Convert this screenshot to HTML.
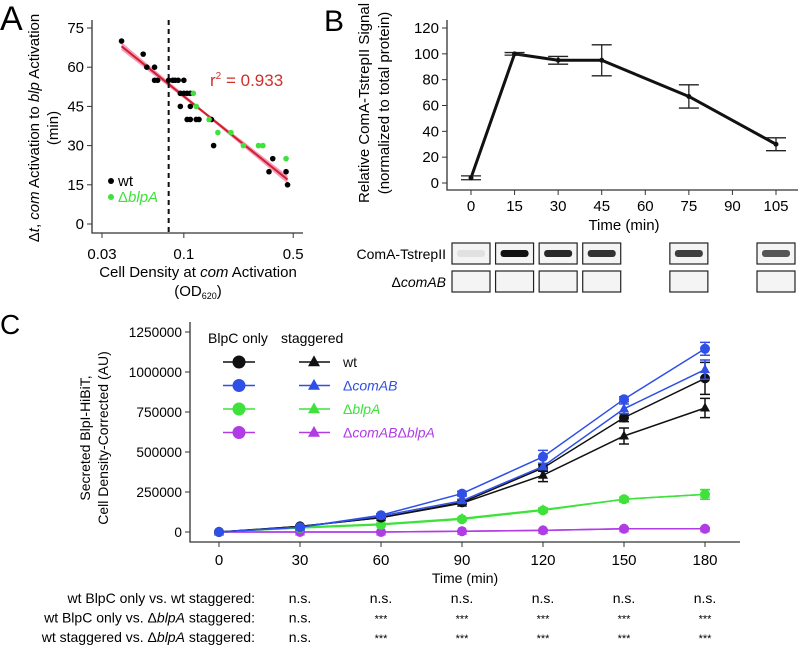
<!DOCTYPE html>
<html><head><meta charset="utf-8"><style>
html,body{margin:0;padding:0;background:#fff;}
svg{display:block;font-family:"Liberation Sans",sans-serif;}
</style></head><body>
<svg id="fig" width="800" height="652" viewBox="0 0 800 652" xmlns="http://www.w3.org/2000/svg">
<g id="pA"></g>
<g id="pB"></g>
<g id="pC"></g>
</svg>
<script>
// ---------- Panel A data ----------
const aWtX=[0.04,0.055,0.058,0.065,0.065,0.068,0.08,0.085,0.088,0.092,0.1,0.095,0.1,0.105,0.11,0.095,0.11,0.105,0.11,0.12,0.125,0.15,0.155,0.37,0.35,0.45,0.46];
const aWtY=[70,65,60,60,55,55,55,55,55,55,55,50,50,50,50,45,45,40,40,40,40,40,30,25,20,20,15];
const aMutX=[0.115,0.12,0.145,0.165,0.2,0.24,0.3,0.32,0.45];
const aMutY=[50,45,40,35,35,30,30,30,25];
const aYTicks=[0,15,30,45,60,75];
const aXTicks=[0.03,0.1,0.5];
const aFitX=[0.04,0.46];
const aFitY=[68,17];
const aThreshold=[0.08];
// ---------- Panel B data ----------
const bTime=[0,15,30,45,75,105];
const bVal=[4,100,95,95,67,30];
const bErr=[1.5,1,3,12,9,5];
const bYTicks=[0,20,40,60,80,100,120];
const bXTicks=[0,15,30,45,60,75,90,105];
const bBand=[0.08,1,0.9,0.85,0.8,0.7];
// ---------- Panel C data ----------
const cTime=[0,30,60,90,120,150,180];
const cWtOnly=[0,35,90,185,400,715,960];
const cWtStag=[0,35,90,180,355,600,775];
const cComOnly=[0,30,105,240,470,830,1145];
const cComStag=[0,30,100,195,410,770,1015];
const cBlpOnly=[0,25,45,80,135,205,235];
const cBlpStag=[0,30,50,85,140,205,235];
const cDblOnly=[0,0,0,5,10,20,20];
const cDblStag=[0,0,0,5,10,20,20];
const cWtOnlyErr=[0,3,5,8,20,25,100];
const cWtStagErr=[0,3,5,8,40,50,60];
const cComOnlyErr=[0,3,8,15,40,15,40];
const cComStagErr=[0,3,8,10,20,30,60];
const cBlpErr=[0,2,3,5,10,12,30];
const cDblErr=[0,1,1,2,3,4,5];
const cYTicks=[0,250000,500000,750000,1000000,1250000];
const cXTicks=[0,30,60,90,120,150,180];
const statLabels=["wt BlpC only vs. wt staggered:","wt BlpC only vs. \u0394<tspan font-style=\"italic\">blpA</tspan> staggered:","wt staggered vs. \u0394<tspan font-style=\"italic\">blpA</tspan> staggered:"];
const statRows=[["n.s.","n.s.","n.s.","n.s.","n.s.","n.s."],["n.s.","***","***","***","***","***"],["n.s.","***","***","***","***","***"]];

const NS="http://www.w3.org/2000/svg";
function mk(parent,tag,attrs,text){const e=document.createElementNS(NS,tag);for(const k in attrs)e.setAttribute(k,attrs[k]);if(text!==undefined)e.innerHTML=text;parent.appendChild(e);return e;}

// ===== Panel A =====
(function(){
const g=document.getElementById('pA');
const xA=v=>102+Math.log10(v/0.03)*156.5;
const yA=v=>224-v*(196/75);
let t=mk(g,'text',{x:0,y:30,'font-size':34},'A');

let ax=mk(g,'path',{d:'M92,20V233H303',fill:'none',stroke:'#333','stroke-width':1.3});

aYTicks.forEach(v=>{mk(g,'line',{x1:87,x2:92,y1:yA(v),y2:yA(v),stroke:'#333'});
 let l=mk(g,'text',{x:84,y:yA(v)+5,'text-anchor':'end','font-size':15},v);
 });
aXTicks.forEach(v=>{mk(g,'line',{x1:xA(v),x2:xA(v),y1:233,y2:238,stroke:'#333'});
 let l=mk(g,'text',{x:xA(v),y:259,'text-anchor':'middle','font-size':15},v);
 });
let xt=mk(g,'text',{x:198,y:277,'text-anchor':'middle','font-size':15},'Cell Density at <tspan font-style="italic">com</tspan> Activation');

let xt2=mk(g,'text',{x:198,y:296,'text-anchor':'middle','font-size':15},'(OD<tspan font-size="9" dy="3">620</tspan><tspan dy="-3">)</tspan>');

let yt=mk(g,'text',{transform:'translate(39,128) rotate(-90)','text-anchor':'middle','font-size':15},'\u0394<tspan font-style="italic">t</tspan>, <tspan font-style="italic">com</tspan> Activation to <tspan font-style="italic">blp</tspan> Activation');

let yt2=mk(g,'text',{transform:'translate(58,128) rotate(-90)','text-anchor':'middle','font-size':15},'(min)');

const x1=xA(aFitX[0]),x2=xA(aFitX[1]),y1=yA(aFitY[0]),y2=yA(aFitY[1]);
let band=mk(g,'polygon',{points:`${x1},${y1-4} ${(x1+x2)/2},${(y1+y2)/2-1.5} ${x2},${y2-4} ${x2},${y2+4} ${(x1+x2)/2},${(y1+y2)/2+1.5} ${x1},${y1+4}`,fill:'#f07aa8',opacity:0.75});

let fit=mk(g,'line',{x1:x1,y1:y1,x2:x2,y2:y2,stroke:'#d0202a','stroke-width':2});

let dl=mk(g,'line',{x1:xA(aThreshold[0]),x2:xA(aThreshold[0]),y1:20,y2:233,stroke:'#111','stroke-width':2,'stroke-dasharray':'5,4'});

aWtX.forEach((v,i)=>{let c=mk(g,'circle',{cx:xA(v),cy:yA(aWtY[i]),r:2.8,fill:'#000'});
 });
aMutX.forEach((v,i)=>{let c=mk(g,'circle',{cx:xA(v),cy:yA(aMutY[i]),r:2.8,fill:'#3ee23a'});
 });
let r=mk(g,'text',{x:210,y:86,'font-size':17,fill:'#d0302a'},'r<tspan font-size="10" dy="-7">2</tspan><tspan dy="7"> = 0.933</tspan>');

let lg=mk(g,'g',{});
mk(lg,'circle',{cx:111,cy:181,r:3,fill:'#000'});mk(lg,'text',{x:118,y:186,'font-size':15},'wt');
mk(lg,'circle',{cx:111,cy:197,r:3,fill:'#3ee23a'});mk(lg,'text',{x:118,y:202,'font-size':15,fill:'#3ee23a'},'\u0394<tspan font-style="italic">blpA</tspan>');
})();

// ===== Panel B =====
(function(){
const g=document.getElementById('pB');
const xB=v=>471+v*(305/105);
const yB=v=>183-v*(155/120);
let t=mk(g,'text',{x:324,y:31,'font-size':30},'B');

let ax=mk(g,'path',{d:'M447,20V190H798',fill:'none',stroke:'#333','stroke-width':1.3});

bYTicks.forEach(v=>{mk(g,'line',{x1:442,x2:447,y1:yB(v),y2:yB(v),stroke:'#333'});
 let l=mk(g,'text',{x:439,y:yB(v)+5,'text-anchor':'end','font-size':15},v);
 });
bXTicks.forEach(v=>{mk(g,'line',{x1:xB(v),x2:xB(v),y1:190,y2:195,stroke:'#333'});
 let l=mk(g,'text',{x:xB(v),y:211,'text-anchor':'middle','font-size':15},v);
 });
let xt=mk(g,'text',{x:624,y:230,'text-anchor':'middle','font-size':15},'Time (min)');

let yt=mk(g,'text',{transform:'translate(369,103) rotate(-90)','text-anchor':'middle','font-size':15},'Relative ComA-TstrepII Signal');

let yt2=mk(g,'text',{transform:'translate(389,103) rotate(-90)','text-anchor':'middle','font-size':15},'(normalized to total protein)');

let ln=mk(g,'polyline',{points:bTime.map((v,i)=>xB(v)+','+yB(bVal[i])).join(' '),fill:'none',stroke:'#111','stroke-width':3,'stroke-linejoin':'round'});

bTime.forEach((v,i)=>{const x=xB(v),a=yB(bVal[i]+bErr[i]),b=yB(bVal[i]-bErr[i]);
 let e=mk(g,'path',{d:`M${x},${a}V${b}M${x-10},${a}H${x+10}M${x-10},${b}H${x+10}`,stroke:'#222','stroke-width':1.3,fill:'none'});
 
 let c=mk(g,'circle',{cx:x,cy:yB(bVal[i]),r:2.5,fill:'#111'});
 
 let box=mk(g,'rect',{x:x-19,y:243,width:38,height:21,fill:'#f4f4f4',stroke:'#222','stroke-width':1.2});
 
 let bd=mk(g,'rect',{x:x-14,y:250,width:28,height:7,rx:3,fill:'#111',opacity:bBand[i]});
 
 let box2=mk(g,'rect',{x:x-19,y:271,width:38,height:21,fill:'#f4f4f4',stroke:'#222','stroke-width':1.2});
 
});
let l1=mk(g,'text',{x:446,y:259,'text-anchor':'end','font-size':14},'ComA-TstrepII');

let l2=mk(g,'text',{x:446,y:287,'text-anchor':'end','font-size':14},'\u0394<tspan font-style="italic">comAB</tspan>');

})();

// ===== Panel C =====
(function(){
const g=document.getElementById('pC');
const xC=v=>219+v*(81/30);
const yC=v=>532-v*(200/1250000);
let t=mk(g,'text',{x:0,y:334,'font-size':28},'C');

let ax=mk(g,'path',{d:'M190,322V542H740',fill:'none',stroke:'#333','stroke-width':1.3});

cYTicks.forEach(v=>{mk(g,'line',{x1:185,x2:190,y1:yC(v),y2:yC(v),stroke:'#333'});
 let l=mk(g,'text',{x:182,y:yC(v)+5,'text-anchor':'end','font-size':14,textLength:String(v).length*7.6,lengthAdjust:'spacingAndGlyphs'},v);
 });
cXTicks.forEach(v=>{mk(g,'line',{x1:xC(v),x2:xC(v),y1:542,y2:547,stroke:'#333'});
 let l=mk(g,'text',{x:xC(v),y:565,'text-anchor':'middle','font-size':15},v);
 });
let xt=mk(g,'text',{x:465,y:583,'text-anchor':'middle','font-size':14},'Time (min)');

let yt=mk(g,'text',{transform:'translate(90,438) rotate(-90)','text-anchor':'middle','font-size':14},'Secreted BlpI-HiBiT,');

let yt2=mk(g,'text',{transform:'translate(108,438) rotate(-90)','text-anchor':'middle','font-size':14},'Cell Density-Corrected (AU)');

const series=[
 [cDblOnly,cDblErr,'#b03ce6','circle'],[cDblStag,cDblErr,'#b03ce6','tri'],
 [cBlpOnly,cBlpErr,'#3ee23a','circle'],[cBlpStag,cBlpErr,'#3ee23a','tri'],
 [cWtOnly,cWtOnlyErr,'#111','circle'],[cWtStag,cWtStagErr,'#111','tri'],
 [cComOnly,cComOnlyErr,'#2f4fe6','circle'],[cComStag,cComStagErr,'#2f4fe6','tri']];
const names=['dbl-blpc-only','dbl-staggered','blpa-blpc-only','blpa-staggered','wt-blpc-only','wt-staggered','comab-blpc-only','comab-staggered'];
function marker(par,x,y,col,kind,s){
 if(kind==='circle')return mk(par,'circle',{cx:x,cy:y,r:s,fill:col});
 return mk(par,'polygon',{points:`${x},${y-s*1.1} ${x+s},${y+s*0.7} ${x-s},${y+s*0.7}`,fill:col});}
series.forEach((s,si)=>{
 const sg=mk(g,'g',{});
 
 
 mk(sg,'polyline',{points:cTime.map((v,i)=>xC(v)+','+yC(s[0][i]*1000)).join(' '),fill:'none',stroke:s[2],'stroke-width':1.5});
 cTime.forEach((v,i)=>{const x=xC(v),a=yC((s[0][i]+s[1][i])*1000),b=yC((s[0][i]-s[1][i])*1000);
  if(s[1][i]>0){let e=mk(sg,'path',{d:`M${x},${a}V${b}M${x-5},${a}H${x+5}M${x-5},${b}H${x+5}`,stroke:s[2],'stroke-width':1.5,fill:'none'});
   }
  let m=marker(sg,x,yC(s[0][i]*1000),s[2],s[3],5);
  });
});
const lg=mk(g,'g',{});
mk(lg,'text',{x:208,y:343,'font-size':14},'BlpC only');
mk(lg,'text',{x:281,y:343,'font-size':14},'staggered');
const lcol=['#111','#2f4fe6','#3ee23a','#b03ce6'];
const llab=['wt','\u0394<tspan font-style="italic">comAB</tspan>','\u0394<tspan font-style="italic">blpA</tspan>','\u0394<tspan font-style="italic">comAB</tspan>\u0394<tspan font-style="italic">blpA</tspan>'];
lcol.forEach((c,i)=>{const y=362+i*23.5;
 mk(lg,'line',{x1:223,x2:255,y1:y,y2:y,stroke:c,'stroke-width':1.5});
 marker(lg,239,y,c,'circle',6.5);
 mk(lg,'line',{x1:299,x2:330,y1:y,y2:y,stroke:c,'stroke-width':1.5});
 marker(lg,314,y,c,'tri',6);
 mk(lg,'text',{x:343,y:y+5,'font-size':14,fill:i===0?'#111':c},llab[i]);});
statLabels.forEach((lab,r)=>{const y=603+r*19.5;
 let l=mk(g,'text',{x:255,y:y,'text-anchor':'end','font-size':14},lab);
 
 statRows[r].forEach((s,c)=>{let v=mk(g,'text',{x:xC(cTime[c+1]),y:y,'text-anchor':'middle','font-size':s==='***'?11:14},s);
  });});
})();
</script>
</body></html>
